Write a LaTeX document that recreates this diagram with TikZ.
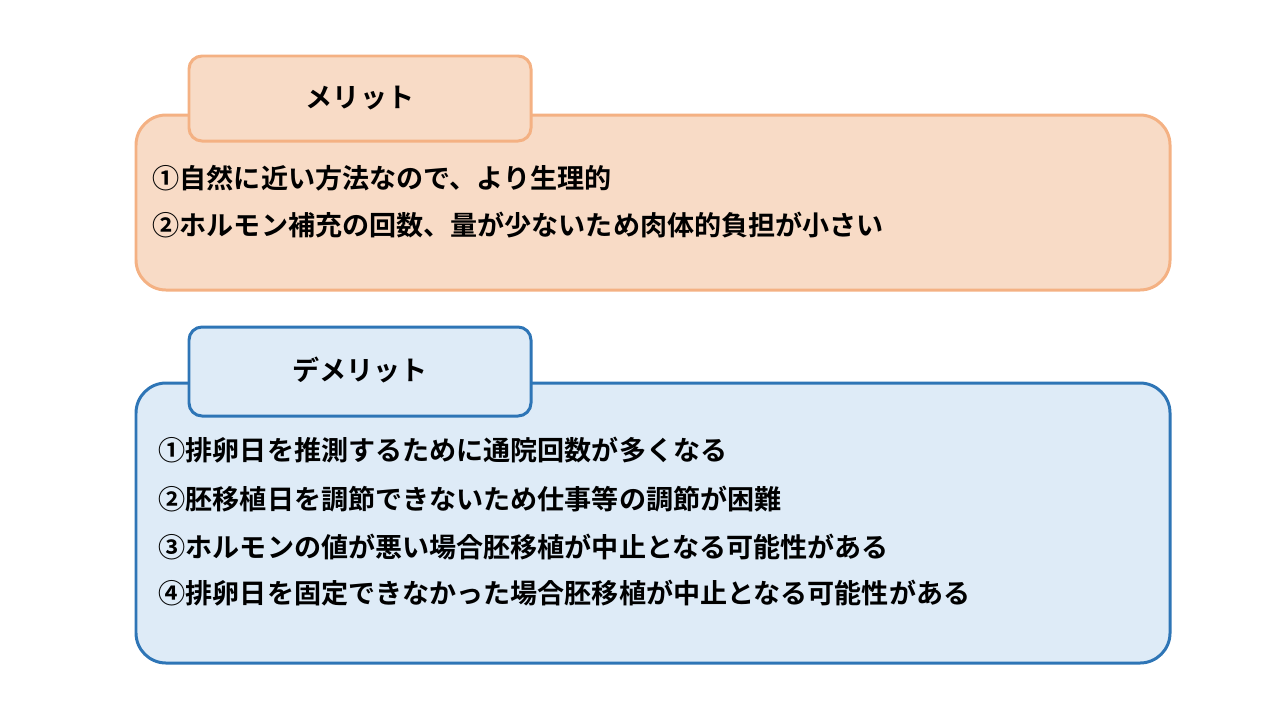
\documentclass[tikz,border=0pt]{standalone}
\usepackage{fontspec}
\setmainfont{Noto Sans CJK JP Bold}
\usetikzlibrary{positioning}
\definecolor{meritfill}{HTML}{F8DBC6}
\definecolor{meritline}{HTML}{F4B183}
\definecolor{demfill}{HTML}{DEEBF7}
\definecolor{demline}{HTML}{2E75B6}
\tikzset{
  bigbox/.style={rounded corners=0.3cm, line width=0.85pt},
  tabbox/.style={rounded corners=0.13cm, line width=0.85pt},
  item/.style={anchor=west, inner sep=0pt, font=\fontsize{7.7}{9}\selectfont}
}
\begin{document}
\begin{tikzpicture}[x=0.01cm,y=0.01cm]
    \useasboundingbox (0,0) rectangle (1280,720);
    % Merit
    \draw[bigbox, fill=meritfill, draw=meritline] (136,430) rectangle (1170,605);
    \draw[tabbox, fill=meritfill, draw=meritline] (189,579) rectangle (531,664);
    \node[item, anchor=center] (mt) at (360,622) {メリット};
    \node[item] (m1) at (152,542) {①自然に近い方法なので、より生理的};
    \node[item] (m2) at (152,495) {②ホルモン補充の回数、量が少ないため肉体的負担が小さい};
    % Demerit
    \draw[bigbox, fill=demfill, draw=demline] (136,57) rectangle (1170,337);
    \draw[tabbox, fill=demfill, draw=demline] (189,304) rectangle (531,393);
    \node[item, anchor=center] (dt) at (360,350) {デメリット};
    \node[item] (d1) at (158,270) {①排卵日を推測するために通院回数が多くなる};
    \node[item] (d2) at (158,221) {②胚移植日を調節できないため仕事等の調節が困難};
    \node[item] (d3) at (158,173) {③ホルモンの値が悪い場合胚移植が中止となる可能性がある};
    \node[item] (d4) at (158,127) {④排卵日を固定できなかった場合胚移植が中止となる可能性がある};
\end{tikzpicture}
\end{document}
